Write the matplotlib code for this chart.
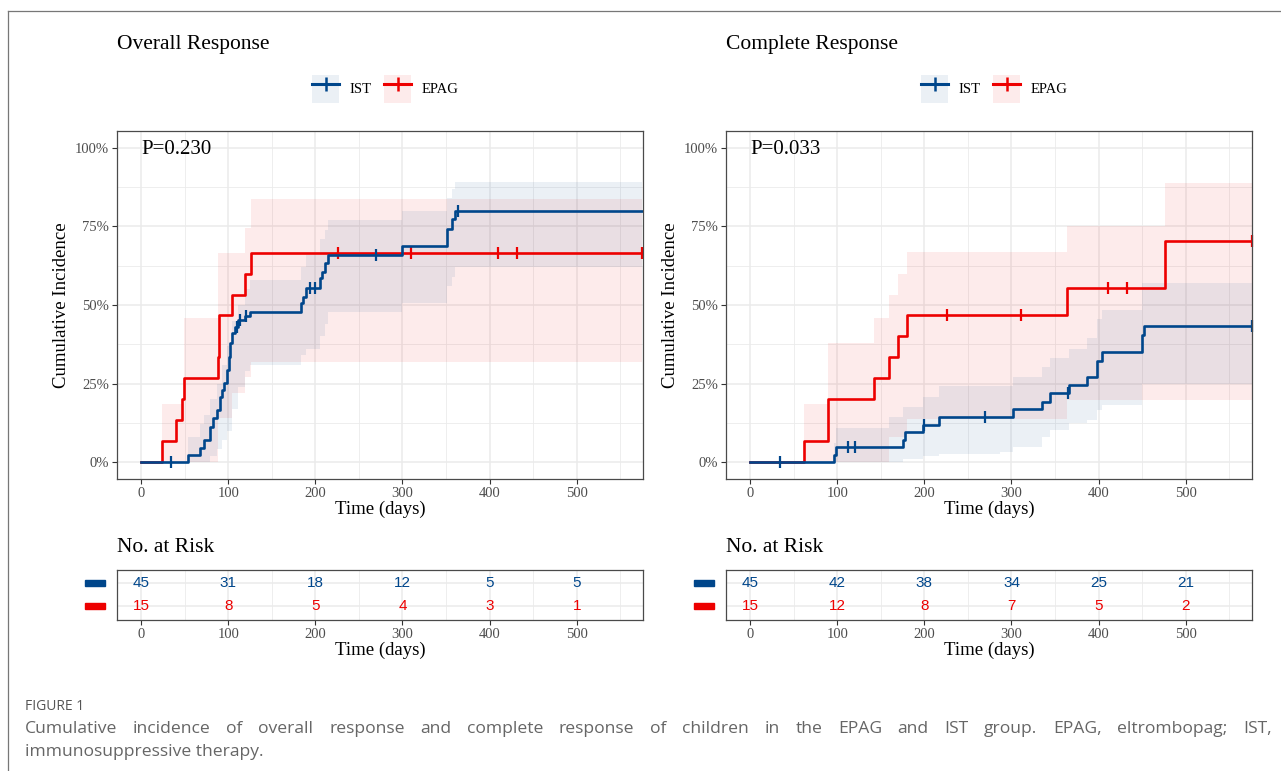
import numpy as np
import matplotlib
matplotlib.use("Agg")
import matplotlib.pyplot as plt
from matplotlib.lines import Line2D
from matplotlib.patches import Patch, Rectangle
from matplotlib.legend_handler import HandlerTuple

W, H = 1281, 771
BLUE = "#00468B"
RED = "#ED0000"
SERIF = "Liberation Serif"
SANS = "Liberation Sans"

# ---- Overall response (values in %) ----
ist_or_t = [0, 53.5, 67.7, 72.2, 79.1, 82.9, 87.5, 90.6, 92.5, 95.6, 98.2, 100.9, 102, 104.7,
            107.8, 111.6, 119.3, 125, 183, 186, 189.2, 205.3, 207.2, 211, 214.8, 300, 350.6,
            356.3, 360, 575]
ist_or_v = [0, 2.3, 4.6, 7, 11.3, 13.9, 16.6, 20.8, 22.9, 25.1, 29.3, 33.5, 37.8, 41,
            43.1, 45.2, 46.5, 47.9, 50.5, 52.7, 55.3, 58.5, 60.6, 63.3, 65.9, 68.8, 74.2,
            77.3, 80, 80]
ist_or_cens = [34, 110, 114, 121, 194, 200, 270, 364]
ist_or_band_t = [53.5, 67.7, 72.2, 79.1, 87.5, 92.5, 98.2, 104.7, 111.6, 119.3, 125, 183,
                 189.2, 205.3, 211, 214.8, 300, 350.6, 356.3, 360, 575]
ist_or_lo = [0, 0, 0, 2, 4, 7, 10, 17, 24, 29, 31, 34, 36, 40, 44, 47.9, 50.5, 56, 59, 62.2, 62.2]
ist_or_hi = [8, 12, 15, 20, 25, 31, 37, 45, 50, 55, 58, 62, 66, 71, 74, 77, 80, 84, 87, 89.3, 89.3]

epag_or_t = [0, 24.5, 39.7, 46.6, 49.3, 88.7, 89.8, 104, 119.3, 125.8, 575]
epag_or_v = [0, 6.67, 13.33, 20, 26.67, 33.33, 46.67, 53.33, 60, 66.67, 66.67]
epag_or_cens = [225.5, 310, 410, 431.6, 575]
epag_or_band_t = [24.5, 49.3, 88.7, 104, 119.3, 125.8, 575]
epag_or_lo = [0, 0, 14, 22, 27, 32, 32]
epag_or_hi = [18.5, 46, 66.7, 66.7, 74.5, 83.8, 83.8]

# ---- Complete response ----
ist_cr_t = [0, 95.8, 98.9, 175.5, 178, 198.5, 216.5, 301.5, 335.3, 344, 365.5, 387, 398,
            403.8, 450.2, 452, 576]
ist_cr_v = [0, 2.3, 4.7, 7, 9.6, 11.8, 14.2, 16.8, 19.2, 21.9, 24.5, 27.2, 32.3,
            35.1, 40.4, 43.3, 43.3]
ist_cr_cens = [34, 112, 120, 199.2, 269.3, 365, 576]
ist_cr_band_t = [95.8, 98.9, 159, 176, 199, 216.5, 287, 302, 335.3, 344, 365.5, 387, 398,
                 404, 450.2, 576]
ist_cr_lo = [0, 0, 0, 1, 2, 2.6, 3.3, 4.9, 7.9, 10.3, 12.4, 13.5, 16.6, 18.2, 25, 25]
ist_cr_hi = [6, 10.7, 14.4, 17.6, 20.8, 24.1, 24.1, 27.2, 30.2, 33.2, 36, 39.6, 45.7, 48.4, 57, 57]

epag_cr_t = [0, 62, 90, 141.8, 159.4, 170.1, 180.1, 364, 476.3, 576]
epag_cr_v = [0, 6.67, 20, 26.67, 33.33, 40, 46.67, 55.56, 70.37, 70.37]
epag_cr_cens = [226, 311, 410.7, 433, 576]
epag_cr_band_t = [62, 90, 141.8, 159.4, 170.1, 180.1, 364, 476.3, 576]
epag_cr_lo = [0, 0, 0, 8, 8, 13.6, 19.7, 19.7, 19.7]
epag_cr_hi = [18.5, 37.8, 46, 53.3, 60, 66.8, 75.2, 89, 89]

# ---- numbers at risk ----
risk_times = [0, 100, 200, 300, 400, 500]
or_ist_risk = [45, 31, 18, 12, 5, 5]
or_epag_risk = [15, 8, 5, 4, 3, 1]
cr_ist_risk = [45, 42, 38, 34, 25, 21]
cr_epag_risk = [15, 12, 8, 7, 5, 2]

panels = [
    dict(title="Overall Response", p="P=0.230", left=117,
         ist=(ist_or_t, ist_or_v, ist_or_cens, ist_or_band_t, ist_or_lo, ist_or_hi),
         epag=(epag_or_t, epag_or_v, epag_or_cens, epag_or_band_t, epag_or_lo, epag_or_hi),
         risk=(or_ist_risk, or_epag_risk)),
    dict(title="Complete Response", p="P=0.033", left=726,
         ist=(ist_cr_t, ist_cr_v, ist_cr_cens, ist_cr_band_t, ist_cr_lo, ist_cr_hi),
         epag=(epag_cr_t, epag_cr_v, epag_cr_cens, epag_cr_band_t, epag_cr_lo, epag_cr_hi),
         risk=(cr_ist_risk, cr_epag_risk)),
]

XLIM = (-27.6, 576)
GRID = "#EBEBEB"
TICKC = "#4D4D4D"


def px_axes(left, top, width, height):
    return fig.add_axes([left / W, 1 - (top + height) / H, width / W, height / H])


def style_axes(ax):
    for s in ax.spines.values():
        s.set_color("#4a4a4a")
        s.set_linewidth(0.9)
    ax.tick_params(axis="both", length=3.6, width=0.8, color="#333333", pad=2,
                   labelsize=10.5, labelcolor=TICKC)
    for lab in ax.get_xticklabels() + ax.get_yticklabels():
        lab.set_family(SERIF)
    ax.grid(which="major", color=GRID, lw=1.1)
    ax.grid(which="minor", color=GRID, lw=0.6)
    ax.tick_params(which="minor", length=0)
    ax.set_axisbelow(True)


def draw_group(ax, data, color):
    t, v, cens, bt, lo, hi = data
    v = np.array(v) / 100
    ax.fill_between(bt, np.array(lo) / 100, np.array(hi) / 100, step="post",
                    color=color, alpha=0.08, lw=0)
    ax.step(t, v, where="post", color=color, lw=1.9)
    idx = np.searchsorted(t, cens, side="right") - 1
    ax.plot(cens, v[idx], ls="none", marker="|", ms=8, mew=1.6, color=color, clip_on=False)


fig = plt.figure(figsize=(W / 100, H / 100), dpi=100)

for pn in panels:
    L = pn["left"]
    ax = px_axes(L, 131, 526, 348)
    draw_group(ax, pn["epag"], RED)
    draw_group(ax, pn["ist"], BLUE)
    ax.set_xlim(*XLIM)
    ax.set_ylim(-0.054, 1.054)
    ax.set_xticks(risk_times)
    ax.set_xticks(np.arange(50, 600, 100), minor=True)
    ax.set_yticks([0, 0.25, 0.5, 0.75, 1.0])
    ax.set_yticklabels(["0%", "25%", "50%", "75%", "100%"])
    ax.set_yticks([0.125, 0.375, 0.625, 0.875], minor=True)
    style_axes(ax)
    ax.set_xlabel("Time (days)", family=SERIF, fontsize=13.5, labelpad=1)
    ax.set_ylabel("Cumulative Incidence", family=SERIF, fontsize=13.5, labelpad=4)
    ax.text(0, 0.995, pn["p"], family=SERIF, fontsize=15, ha="left", va="center")
    fig.text(L / W, 1 - 45 / H, pn["title"], family=SERIF, fontsize=15.5, ha="left", va="center")

    h_ist = (Patch(facecolor=BLUE, alpha=0.08, lw=0),
             Line2D([], [], color=BLUE, lw=2.2, marker="|", ms=10, mew=1.8))
    h_epag = (Patch(facecolor=RED, alpha=0.08, lw=0),
              Line2D([], [], color=RED, lw=2.2, marker="|", ms=10, mew=1.8))
    ax.legend([h_ist, h_epag], ["IST", "EPAG"], handler_map={tuple: HandlerTuple(ndivide=1, pad=0)},
              loc="center", bbox_to_anchor=(0.51, 1 + 42 / 348), ncol=2, frameon=False,
              prop=dict(family=SERIF, size=10.5), handlelength=1.85, handleheight=2.55,
              handletextpad=0.7, columnspacing=0.85, borderaxespad=0)

    # risk table
    rt = px_axes(L, 570, 526, 50)
    ist_r, epag_r = pn["risk"]
    for x, n in zip(risk_times, ist_r):
        rt.text(x, 2, str(n), color=BLUE, family=SANS, fontsize=11, ha="center", va="center")
    for x, n in zip(risk_times, epag_r):
        rt.text(x, 1, str(n), color=RED, family=SANS, fontsize=11, ha="center", va="center")
    rt.set_xlim(*XLIM)
    rt.set_ylim(0.4, 2.57)
    rt.set_xticks(risk_times)
    rt.set_xticks(np.arange(50, 600, 100), minor=True)
    rt.set_yticks([1, 2])
    rt.set_yticklabels([])
    style_axes(rt)
    rt.tick_params(axis="y", length=0)
    rt.set_xlabel("Time (days)", family=SERIF, fontsize=13.5, labelpad=1)
    for yy, c in [(2, BLUE), (1, RED)]:
        rt.add_patch(Rectangle((-0.061, yy - 0.14), 0.039, 0.28, color=c, clip_on=False,
                               transform=rt.get_yaxis_transform()))
    fig.text(L / W, 1 - 548 / H, "No. at Risk", family=SERIF, fontsize=15.5, ha="left", va="center")

# page frame
fig.add_artist(Line2D([8 / W, 8 / W], [0, 1 - 11 / H], color="#777777", lw=0.9))
fig.add_artist(Line2D([8 / W, 1], [1 - 11 / H, 1 - 11 / H], color="#777777", lw=0.9))

# caption
CAPF = ["Open Sans", "DejaVu Sans"]
fig.text(25 / W, 1 - 706 / H, "FIGURE 1", family=CAPF, fontsize=10, color="#555555",
         ha="left", va="center")
line1 = ("Cumulative incidence of overall response and complete response of children in the "
         "EPAG and IST group. EPAG, eltrombopag; IST,").split()
renderer = fig.canvas.get_renderer()
words = [fig.text(0, 1 - 729 / H, w, family=CAPF, fontsize=12.6, color="#666666",
                  ha="left", va="center") for w in line1]
widths = [t.get_window_extent(renderer).width for t in words]
gap = (1272 - 25 - sum(widths)) / (len(words) - 1)
x = 25
for t, w in zip(words, widths):
    t.set_x(x / W)
    x += w + gap
fig.text(25 / W, 1 - 752 / H, "immunosuppressive therapy.", family=CAPF, fontsize=12.6,
         color="#666666", ha="left", va="center")

fig.savefig("out.png", dpi=100)
